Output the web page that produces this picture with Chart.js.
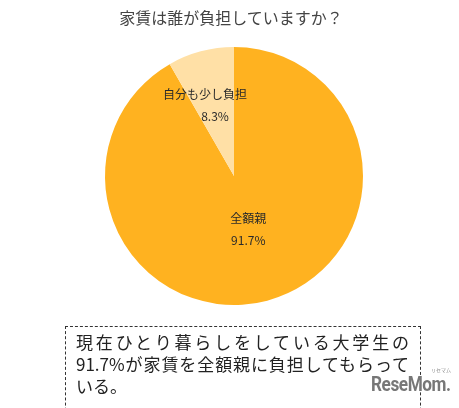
<!DOCTYPE html>
<html>
<head>
<meta charset="utf-8">
<script src="https://cdn.jsdelivr.net/npm/chart.js@4/dist/chart.umd.min.js"></script>
<style>
  html, body { margin: 0; padding: 0; background: #fff; }
  body { width: 459px; height: 408px; position: relative; overflow: hidden;
         font-family: "Noto Sans CJK JP", "Noto Sans", sans-serif; }
  #wrap { position: absolute; left: 0; top: 0; width: 459px; height: 408px; }
  #title { position: absolute; left: 0; width: 462px; top: 5px; text-align: center;
           font-size: 16px; color: #444; }
  #note { position: absolute; left: 65px; top: 326px; width: 356px; height: 100px;
          border: 1px dashed #333; box-sizing: border-box; padding: 4px 0 0 10px;
          font-size: 17px; line-height: 22px; color: #222; }
  #note div { width: 333px; white-space: nowrap; }
  #note .full { text-align: justify; text-align-last: justify; }
  #logo { position: absolute; left: 371px; top: 372px; font-family: "Roboto", sans-serif;
          font-weight: bold; font-size: 20px; color: #777; letter-spacing: -0.5px;
          transform: scaleX(0.86); transform-origin: left top; }
  #kana { position: absolute; left: 431px; top: 366px; font-size: 5px; color: #888; }
</style>
</head>
<body>
<div id="wrap"><canvas id="rentChart"></canvas></div>
<div id="title">家賃は誰が負担していますか？</div>
<div id="note">
  <div class="full">現在ひとり暮らしをしている大学生の</div>
  <div class="full">91.7%が家賃を全額親に負担してもらって</div>
  <div>いる。</div>
</div>
<div id="logo">ReseMom.</div>
<div id="kana">リセマム</div>
<script>
// data
const categories = ["全額親", "自分も少し負担"];
const shares = [91.7, 8.3];
const sliceColors = ["#FFB220", "#FFE0A6"];

// writes name + percent inside each slice
const sliceLabels = {
    id: "sliceLabels",
    afterDatasetsDraw(chart) {
        const ctx = chart.ctx;
        const meta = chart.getDatasetMeta(0);
        const radiusShare = [0.43, 0.57];
        meta.data.forEach((arc, i) => {
            const p = arc.getProps(["x", "y", "startAngle", "endAngle", "outerRadius"], true);
            const mid = (p.startAngle + p.endAngle) / 2;
            const r = p.outerRadius * radiusShare[i];
            const x = p.x + Math.cos(mid) * r;
            const y = p.y + Math.sin(mid) * r;
            ctx.save();
            ctx.fillStyle = "#2a2a2a";
            ctx.textAlign = "center";
            ctx.textBaseline = "middle";
            ctx.font = "12px 'Noto Sans CJK JP', sans-serif";
            ctx.fillText(categories[i], x - (i === 1 ? 10 : 0), y - 11);
            ctx.fillText(shares[i].toFixed(1) + "%", x, y + 11);
            ctx.restore();
        });
    }
};

new Chart(document.getElementById("rentChart"), {
    type: "pie",
    data: {
        labels: categories,
        datasets: [{
            data: shares,
            backgroundColor: sliceColors,
            borderWidth: 0
        }]
    },
    options: {
        responsive: true,
        maintainAspectRatio: false,
        animation: false,
        layout: { padding: { top: 47, bottom: 103, left: 105, right: 96 } },
        plugins: {
            legend: { display: false },
            tooltip: { enabled: false }
        }
    },
    plugins: [sliceLabels]
});
</script>
</body>
</html>
